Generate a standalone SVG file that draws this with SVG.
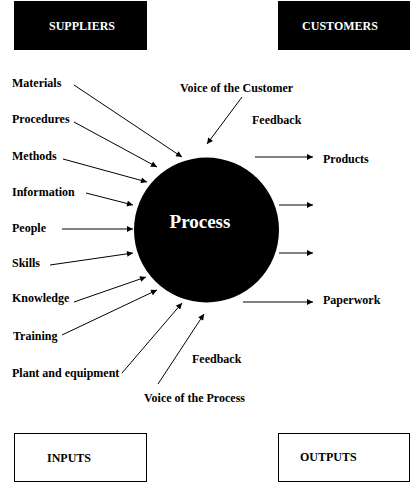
<svg xmlns="http://www.w3.org/2000/svg" width="411" height="482" viewBox="0 0 411 482">
<style>
text{font-family:"Liberation Serif","Times New Roman",serif;font-weight:bold;font-size:12px;fill:#000}
.w{fill:#fff}
.ln{stroke:#000;stroke-width:1;fill:none;marker-end:url(#ah)}
.ob{fill:#fff;stroke:#000;stroke-width:1}
</style>
<defs>
<marker id="ah" viewBox="0 0 10 10" refX="10" refY="5" markerWidth="7" markerHeight="6" markerUnits="userSpaceOnUse" orient="auto">
<path d="M0,0 L10,5 L0,10 z" fill="#000"/>
</marker>
</defs>
<rect width="411" height="482" fill="#fff"/>
<g id="suppliers"><rect x="14" y="1" width="133" height="49" fill="#000"/><text class="w" x="82" y="30" text-anchor="middle">SUPPLIERS</text></g>
<g id="customers"><rect x="278" y="1" width="132" height="49" fill="#000"/><text class="w" x="340" y="30" text-anchor="middle">CUSTOMERS</text></g>
<g id="process"><circle cx="206.5" cy="230" r="72.5" fill="#000"/><text class="w" x="200" y="228" text-anchor="middle" style="font-size:19px">Process</text></g>
<g id="inputs"><rect class="ob" x="14.5" y="433.5" width="132" height="48"/><text x="47" y="462">INPUTS</text></g>
<g id="outputs"><rect class="ob" x="278.5" y="433.5" width="131" height="48"/><text x="300" y="461">OUTPUTS</text></g>
<g id="labels">
<text x="12" y="87">Materials</text>
<text x="12" y="123">Procedures</text>
<text x="12" y="160">Methods</text>
<text x="12" y="196">Information</text>
<text x="12" y="232">People</text>
<text x="12" y="267">Skills</text>
<text x="12" y="302">Knowledge</text>
<text x="13" y="340">Training</text>
<text x="12" y="377">Plant and equipment</text>
<text x="180" y="92">Voice of the Customer</text>
<text x="252" y="124">Feedback</text>
<text x="192" y="363">Feedback</text>
<text x="144" y="402">Voice of the Process</text>
<text x="323" y="163">Products</text>
<text x="323" y="304">Paperwork</text>
</g>
<g id="connectors">
<line class="ln" x1="74" y1="85" x2="182" y2="157"/>
<line class="ln" x1="74" y1="122" x2="157" y2="167"/>
<line class="ln" x1="63" y1="159" x2="147" y2="182"/>
<line class="ln" x1="86" y1="193" x2="133" y2="205"/>
<line class="ln" x1="62" y1="229" x2="133" y2="229"/>
<line class="ln" x1="50" y1="265" x2="133" y2="253"/>
<line class="ln" x1="74" y1="302" x2="146" y2="277"/>
<line class="ln" x1="62" y1="335" x2="157" y2="290"/>
<line class="ln" x1="122" y1="373" x2="182" y2="303"/>
<line class="ln" x1="158" y1="384" x2="204" y2="314"/>
<line class="ln" x1="242" y1="97" x2="207" y2="144"/>
<line class="ln" x1="255" y1="157" x2="313" y2="157"/>
<line class="ln" x1="279" y1="205" x2="313" y2="205"/>
<line class="ln" x1="279" y1="253" x2="313" y2="253"/>
<line class="ln" x1="243" y1="302" x2="313" y2="302"/>
</g>
</svg>
